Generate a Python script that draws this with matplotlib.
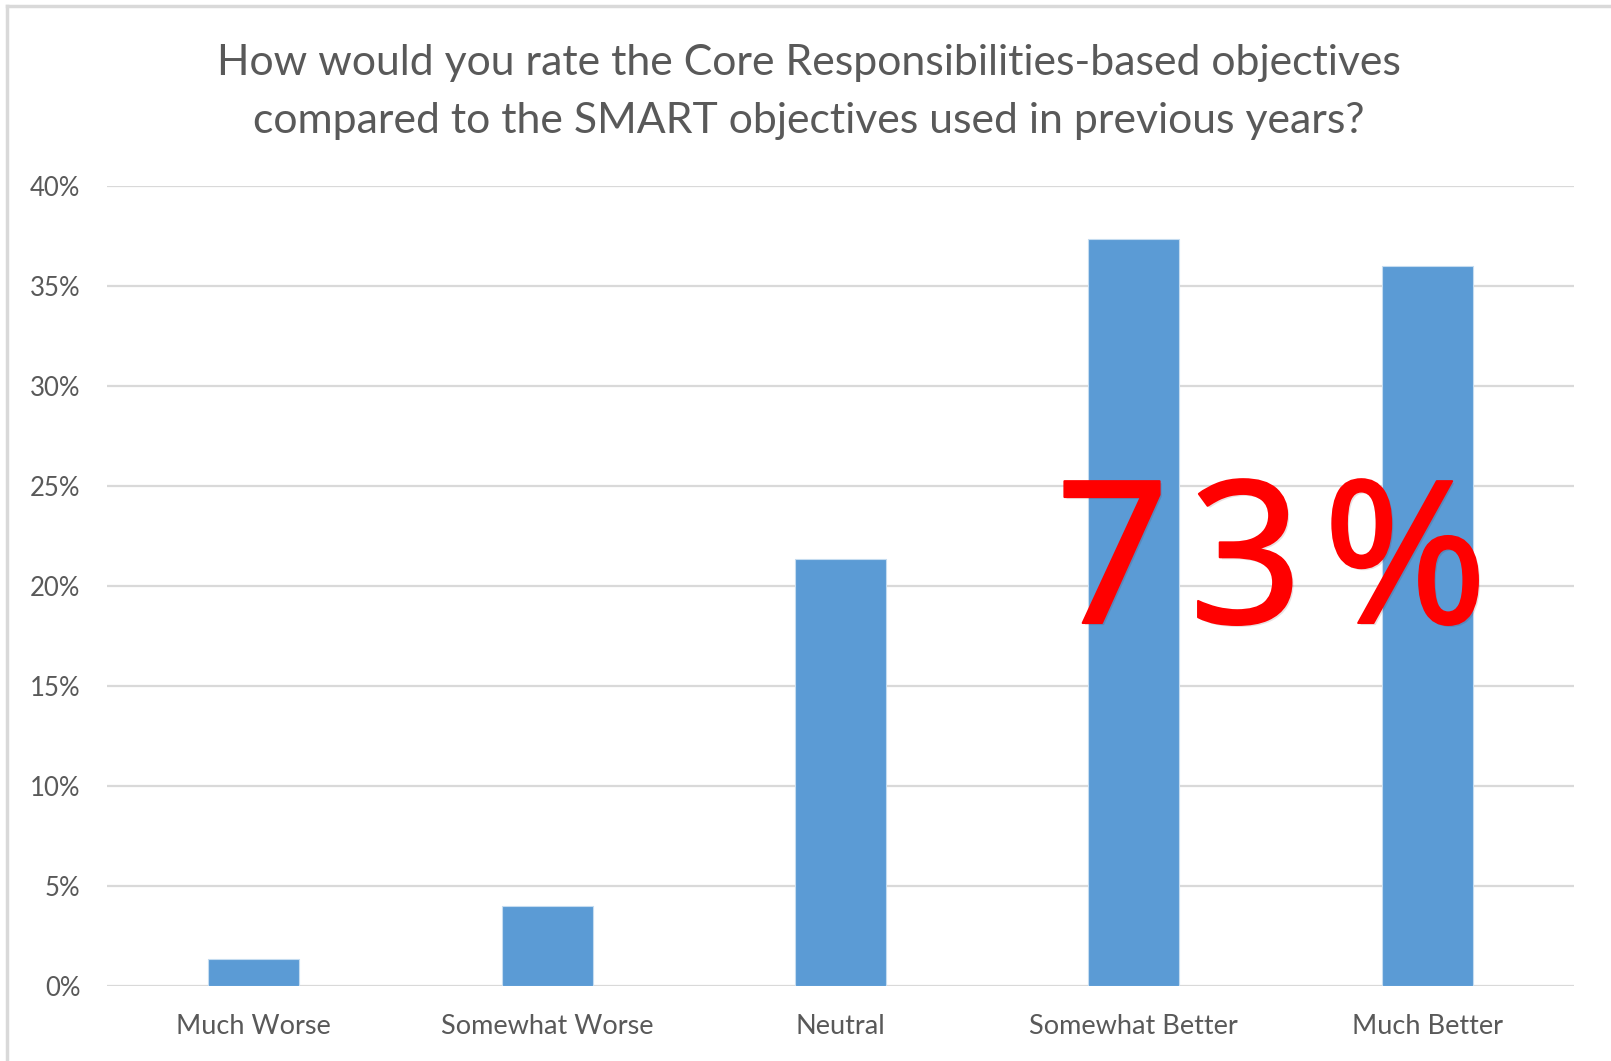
import matplotlib
matplotlib.use('Agg')
import matplotlib.pyplot as plt
import matplotlib.patheffects as pe
import numpy as np
from matplotlib.ticker import FuncFormatter

# survey responses (share of respondents, %)
categories = ['Much Worse', 'Somewhat Worse', 'Neutral', 'Somewhat Better', 'Much Better']
shares = [1.33, 4.0, 21.33, 37.33, 36.0]
yticks = [0, 5, 10, 15, 20, 25, 30, 35, 40]
title = ('How would you rate the Core Responsibilities-based objectives\n'
         'compared to the SMART objectives used in previous years?')
callout = '73%'

plt.rcParams['font.family'] = ['Lato', 'DejaVu Sans']
grey = '#595959'

fig = plt.figure(figsize=(16.11, 10.61), dpi=100)
ax = fig.add_axes([0.0664, 0.0707, 0.9106, 0.754])

x = np.arange(len(categories))
ax.bar(x, shares, width=0.31, color='#5B9BD5', edgecolor='#C5DCF0', linewidth=0.8, zorder=3)

ax.set_xlim(-0.5, len(categories) - 0.5)
ax.set_ylim(0, 40)
ax.set_yticks(yticks)
ax.yaxis.set_major_formatter(FuncFormatter(lambda v, p: f'{v:.0f}%'))
ax.set_xticks(x)
ax.set_xticklabels(categories)
ax.grid(axis='y', color='#D9D9D9', linewidth=1.6, zorder=0)
ax.tick_params(axis='both', length=0, labelcolor=grey)
ax.tick_params(axis='y', pad=19, labelsize=18.5)
ax.tick_params(axis='x', pad=20, labelsize=19.5)
for s in ax.spines.values():
    s.set_visible(False)

fig.text(0.502, 0.913, title, ha='center', va='center', fontsize=30.8,
         color=grey, linespacing=1.64)

# big red callout over the two "better" bars, letters spread apart
spaced = '\u200a'.join(callout)
txt = ax.text(3.47, 18.15, spaced, ha='center', va='baseline', fontsize=143,
              family=['Noto Sans', 'DejaVu Sans'], fontweight=500,
              color='#FF0000', zorder=5)
txt.set_path_effects([pe.withSimplePatchShadow(offset=(1.5, -1.5), alpha=0.12),
                      pe.Stroke(linewidth=1.5, foreground='#FF0000'), pe.Normal()])

# frame lines along top and left edge
fig.add_artist(plt.Line2D([0.0043, 0.0043], [0, 0.9943], color='#D9D9D9', linewidth=2.5,
                          transform=fig.transFigure))
fig.add_artist(plt.Line2D([0.0043, 1.0], [0.9943, 0.9943], color='#D9D9D9', linewidth=2.5,
                          transform=fig.transFigure))

fig.savefig('out.png', dpi=100, facecolor='white')
